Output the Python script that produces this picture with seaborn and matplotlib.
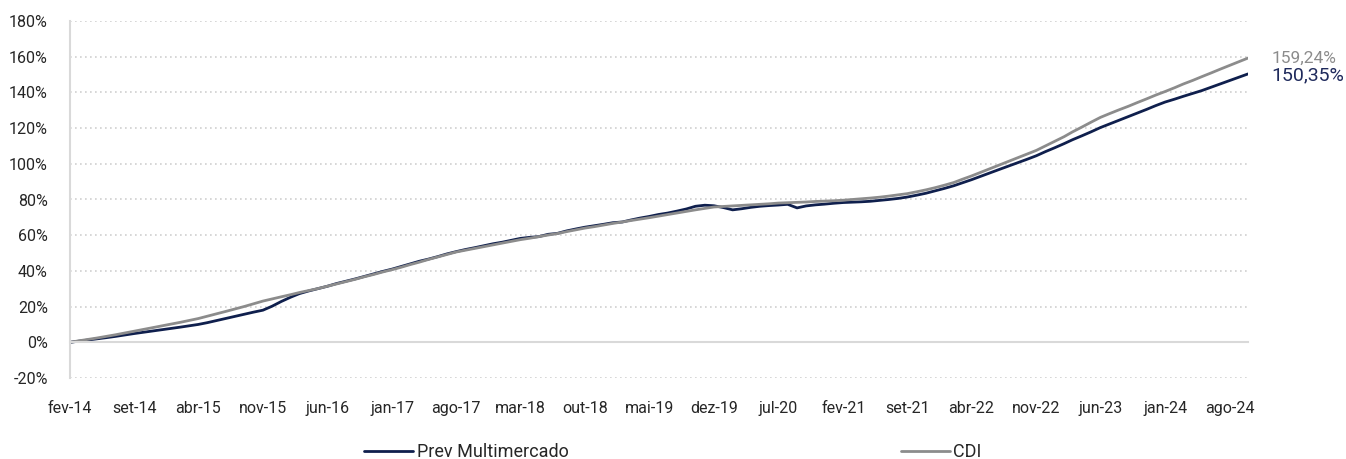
import pandas as pd
import numpy as np
import matplotlib
matplotlib.use('Agg')
import matplotlib.pyplot as plt
import seaborn as sns

# Monthly points (cumulative return, %)
dates = pd.date_range('2014-02-01', periods=129, freq='MS')

cdi = [
    0, 0.8, 1.6, 2.4, 3.3, 4.2, 5.2, 6.2,
    7.2, 8.2, 9.2, 10.2, 11.2, 12.2, 13.3,
    14.6, 16.0, 17.3, 18.7, 20.1, 21.6, 23.1,
    24.3, 25.5, 26.7, 27.9, 29.0, 30.1, 31.4,
    32.7, 34.0, 35.3, 36.7, 38.0, 39.4, 40.7,
    42.1, 43.5, 44.9, 46.4, 47.8, 49.2, 50.6,
    51.6, 52.6, 53.6, 54.6, 55.6, 56.6, 57.5,
    58.3, 59.2, 60.1, 60.9, 62.0, 63.0, 64.0,
    64.8, 65.7, 66.6, 67.4, 68.2, 69.0, 69.8,
    70.7, 71.6, 72.5, 73.4, 74.2, 75.0, 75.8,
    76.1, 76.4, 76.7, 77.0, 77.3, 77.6, 78.0,
    78.2, 78.4, 78.6, 78.9, 79.1, 79.3, 79.6,
    80.0, 80.4, 80.8, 81.3, 81.9, 82.6, 83.3,
    84.3, 85.4, 86.6, 88.0, 89.5, 91.3, 93.2,
    95.2, 97.2, 99.3, 101.4, 103.4, 105.4, 107.5,
    110.0, 112.6, 115.2, 117.9, 120.6, 123.3, 126.0,
    128.1, 130.2, 132.2, 134.3, 136.4, 138.5, 140.5,
    142.6, 144.7, 146.7, 148.8, 150.9, 153.0, 155.1, 157.2, 159.24,
]

prev_multi = [
    0, 0.6, 1.3, 1.9, 2.6, 3.3, 4.1, 4.9,
    5.6, 6.3, 7.0, 7.8, 8.5, 9.2, 10.0,
    11.0, 12.2, 13.4, 14.5, 15.7, 16.9, 18.0,
    20.2, 22.9, 25.3, 27.3, 28.8, 30.1, 31.4,
    32.9, 34.2, 35.5, 36.9, 38.3, 39.7, 41.0,
    42.5, 43.9, 45.4, 46.6, 48.0, 49.5, 50.8,
    52.0, 53.0, 54.1, 55.2, 56.1, 57.2, 58.2,
    58.8, 59.2, 60.5, 61.0, 62.4, 63.5, 64.5,
    65.3, 66.1, 67.0, 67.4, 68.5, 69.6, 70.5,
    71.6, 72.4, 73.5, 74.7, 76.2, 76.8, 76.5,
    75.5, 74.2, 74.8, 75.6, 76.2, 76.6, 76.9,
    77.3, 75.3, 76.4, 77.0, 77.4, 77.9, 78.3,
    78.5, 78.7, 79.0, 79.5, 80.0, 80.6, 81.4,
    82.4, 83.5, 84.8, 86.2, 87.7, 89.3, 91.1,
    93.0, 94.9, 96.8, 98.7, 100.6, 102.5, 104.5,
    106.8, 109.0, 111.3, 113.5, 115.7, 117.9, 120.3,
    122.3, 124.4, 126.4, 128.4, 130.5, 132.6, 134.6,
    136.2, 137.8, 139.4, 141.0, 142.9, 144.8, 146.6, 148.5, 150.35,
]

series_names = ['Prev Multimercado', 'CDI']
tick_dates = pd.date_range('2014-02-01', periods=19, freq='7MS')
tick_labels = ['fev-14', 'set-14', 'abr-15', 'nov-15', 'jun-16', 'jan-17', 'ago-17',
               'mar-18', 'out-18', 'mai-19', 'dez-19', 'jul-20', 'fev-21', 'set-21',
               'abr-22', 'nov-22', 'jun-23', 'jan-24', 'ago-24']
end_labels = ['150,35%', '159,24%']

navy = '#0f1f4d'
grey = '#8c8c8c'
light = '#d9d9d9'

df = pd.DataFrame({
    'data': list(dates) * 2,
    'valor': prev_multi + cdi,
    'serie': [series_names[0]] * len(dates) + [series_names[1]] * len(dates),
})

sns.set_style('white')
plt.rcParams['font.family'] = ['Roboto', 'DejaVu Sans']

fig = plt.figure(figsize=(13.46, 4.59), dpi=100)
ax = fig.add_axes([70 / 1346, 1 - 378 / 459, (1248 - 70) / 1346, (378 - 21) / 459])

sns.lineplot(data=df, x='data', y='valor', hue='serie', hue_order=series_names,
             palette=[navy, grey], linewidth=2.0, ax=ax)

ax.set_xlim(dates[0], dates[-1])
ax.set_ylim(-20, 180)
ax.set_yticks(np.arange(-20, 181, 20))
ax.set_yticklabels([f'{v}%' for v in range(-20, 181, 20)])
ax.set_xticks(tick_dates)
ax.set_xticklabels(tick_labels)
ax.set_xlabel('')
ax.set_ylabel('')

# dotted gridlines
ax.grid(axis='y', linestyle=(0, (1, 2)), color='#cfcfcf', linewidth=1.2)
ax.set_axisbelow(True)

for s in ['top', 'right']:
    ax.spines[s].set_visible(False)
ax.spines['left'].set_color(light)
ax.spines['left'].set_linewidth(1.5)
ax.spines['bottom'].set_position(('data', 0))
ax.spines['bottom'].set_color(light)
ax.spines['bottom'].set_linewidth(1.5)

ax.tick_params(axis='y', length=6, width=1.2, color=light, pad=10,
               labelsize=11.5, labelcolor='#262626')
ax.tick_params(axis='x', length=4, width=1.2, color=light, pad=38,
               labelsize=11.5, labelcolor='#262626')

# end values
ax.annotate(end_labels[1], xy=(dates[-1], cdi[-1]), xytext=(17, 0),
            textcoords='offset points', va='center', ha='left',
            fontsize=12.5, color=grey)
ax.annotate(end_labels[0], xy=(dates[-1], prev_multi[-1]), xytext=(17, -1),
            textcoords='offset points', va='center', ha='left',
            fontsize=14, color='#1f2a5c')

handles, labels = ax.get_legend_handles_labels()
ax.get_legend().remove()
fig.legend(handles, labels, loc='center', bbox_to_anchor=(0.5, 1 - 452 / 459),
           ncol=2, frameon=False, fontsize=13, handlelength=2.7,
           columnspacing=18.4, handletextpad=0.2)

fig.savefig('out.png', dpi=100)
